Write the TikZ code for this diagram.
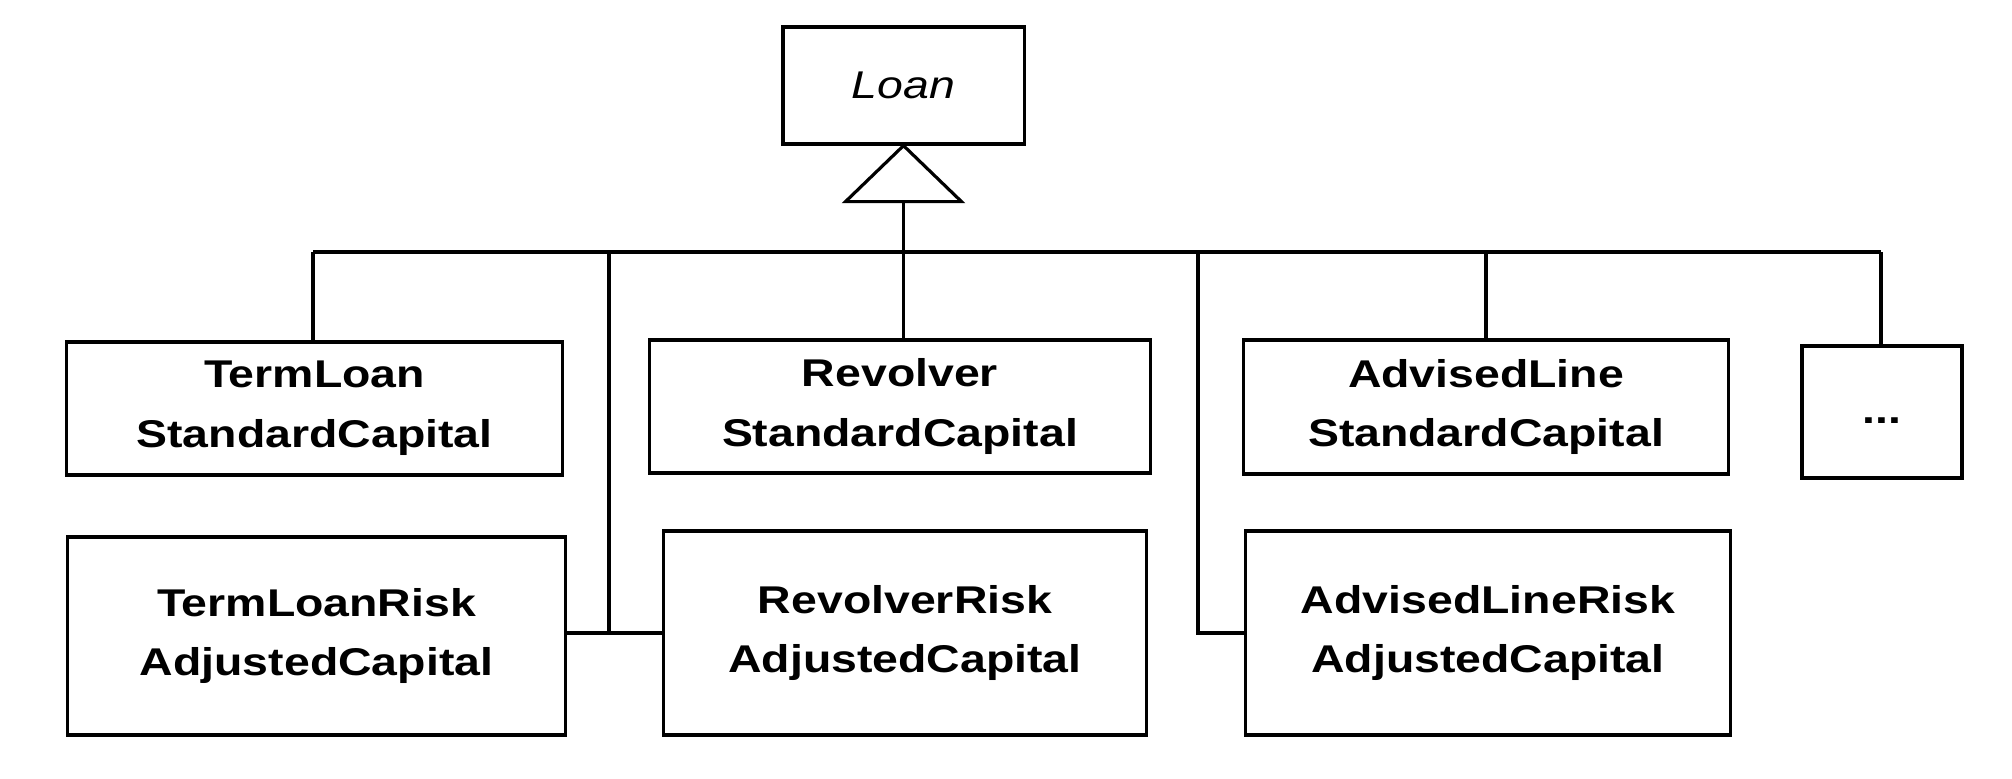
\documentclass[tikz,border=0pt]{standalone}
\usepackage{fontspec}
\newfontfamily\lab[FakeStretch=1.2]{Liberation Sans}
\usetikzlibrary{calc}
\begin{document}
\begin{tikzpicture}[x=0.01cm,y=-0.01cm,
  cls/.style={draw=black, line width=0.9pt, rectangle, inner sep=0pt, align=center,
    font={\lab\bfseries\fontsize{11}{17}\selectfont}},
  lnk/.style={draw=black, line width=0.9pt}]
\useasboundingbox (0,0) rectangle (2012,778);
\fill[white] (0,0) rectangle (2012,778);
% classes
\node[cls, minimum width=2.41cm, minimum height=1.17cm, font={\lab\itshape\fontsize{11}{17}\selectfont}] (Loan) at (903.5,85.5) {Loan};
\node[cls, minimum width=4.95cm, minimum height=1.33cm] (TL) at (314.5,408.5) {TermLoan\\StandardCapital};
\node[cls, minimum width=5.00cm, minimum height=1.33cm] (RV) at (900,406.5) {Revolver\\StandardCapital};
\node[cls, minimum width=4.84cm, minimum height=1.34cm] (AL) at (1486,407) {AdvisedLine\\StandardCapital};
\node[cls, minimum width=1.60cm, minimum height=1.32cm] (DOTS) at (1882,412) {\raisebox{-0.11cm}[0pt][0pt]{...}};
\node[cls, minimum width=4.97cm, minimum height=1.98cm] (TLR) at (316.5,636) {TermLoanRisk\\AdjustedCapital};
\node[cls, minimum width=4.82cm, minimum height=2.04cm] (RVR) at (905,633) {RevolverRisk\\AdjustedCapital};
\node[cls, minimum width=4.84cm, minimum height=2.04cm] (ALR) at (1488,633) {AdvisedLineRisk\\AdjustedCapital};
% inheritance triangle
\coordinate (tri) at ($(Loan.south)+(0,56)$);
\draw[lnk, fill=white] (Loan.south) -- ($(tri)+(-58,0)$) -- ($(tri)+(58,0)$) -- cycle;
\draw[lnk] (tri) -- (tri |- RV.north);
% bus
\coordinate (busL) at (313,252);
\coordinate (busR) at (1881,252);
\coordinate (j1) at (609,252);
\coordinate (k1) at (609,633);
\coordinate (j2) at (1198,252);
\coordinate (k2) at (1198,633);
\draw[lnk] (busL) -- (busR);
\draw[lnk] (busL) -- (busL |- TL.north);
\draw[lnk] (j1) -- (k1);
\draw[lnk] (TLR.east |- k1) -- (RVR.west |- k1);
\draw[lnk] (j2) -- (k2) -- (ALR.west |- k2);
\draw[lnk] (AL.north |- busL) -- (AL.north);
\draw[lnk] (busR) -- (busR |- DOTS.north);
\end{tikzpicture}
\end{document}
